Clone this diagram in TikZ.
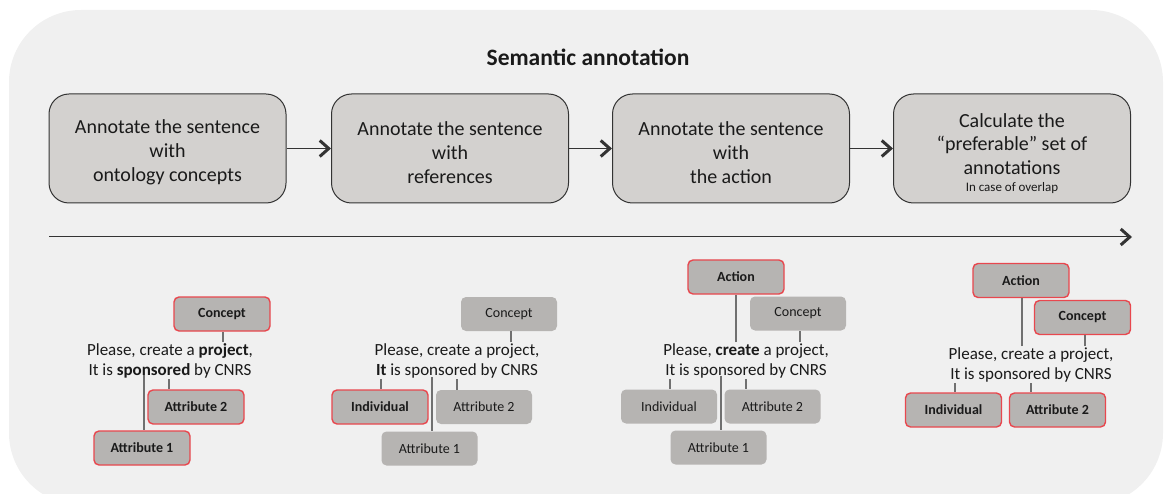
\documentclass[tikz,border=0pt]{standalone}
\usepackage{fontspec}
\setmainfont{Carlito}
\usetikzlibrary{arrows.meta}
\definecolor{bgc}{HTML}{F0F0F0}
\definecolor{bigfill}{HTML}{D3D1CF}
\definecolor{bigdraw}{HTML}{333333}
\definecolor{smallfill}{HTML}{B6B4B2}
\definecolor{redb}{HTML}{E8474E}
\definecolor{connc}{HTML}{707070}
\definecolor{txt}{HTML}{1A1A1A}
\tikzset{
  bigbox/.style={draw=bigdraw, line width=1pt, fill=bigfill, rounded corners=20pt,
    minimum width=237pt, minimum height=109pt, inner sep=0pt},
  boxtext/.style={inner sep=0pt, align=center, text=txt, font=\fontsize{20}{24}\selectfont},
  tag/.style={fill=smallfill, rounded corners=5pt, minimum width=96pt, minimum height=34pt,
    inner sep=0pt, text=txt, font=\fontsize{14}{16}\selectfont},
  redtag/.style={tag, draw=redb, line width=1.4pt, font=\fontsize{14}{16}\selectfont\bfseries},
  sentence/.style={anchor=north, inner sep=0pt, align=center, text=txt,
    font=\fontsize{17}{20}\selectfont},
  conn/.style={draw=connc, line width=1.5pt},
  flow/.style={draw=bigdraw, line width=1pt, -{Straight Barb[line width=3pt, length=9pt, width=16pt]}}
}
\begin{document}
\begin{tikzpicture}[x=1pt,y=-1pt]
\useasboundingbox (0,0) rectangle (1164,494);
\clip (0,0) rectangle (1164,494);
\fill[bgc, rounded corners=72pt] (9,10) rectangle (1163,505);

\node[font=\fontsize{23.5}{27}\selectfont\bfseries, text=txt] (title) at (588,57) {Semantic annotation};

\node[bigbox] (b1) at (167.5,148.5) {};
\node[bigbox] (b2) at (450,148.5) {};
\node[bigbox] (b3) at (731,148.5) {};
\node[bigbox] (b4) at (1012,148.5) {};
\node[boxtext] (b1t) at (167.5,152.5) {Annotate the sentence\\with\\ontology concepts};
\node[boxtext] (b2t) at (450,152.5) {Annotate the sentence\\with\\references};
\node[boxtext] (b3t) at (731,152.5) {Annotate the sentence\\with\\the action};
\node[boxtext, font=\fontsize{20}{23.5}\selectfont] (b4t) at (1012,153.5) {Calculate the\\“preferable” set of\\annotations\\[-6pt]{\fontsize{13}{15}\selectfont In case of overlap}};
\draw[flow] (b1) -- (b2);
\draw[flow] (b2) -- (b3);
\draw[flow] (b3) -- (b4);

\coordinate (t0) at (49,237);
\coordinate (t1) at (1132,237);
\draw[flow] (t0) -- (t1);

% group 1
\node[redtag] (g1con) at (222,314) {Concept};
\node[sentence] (g1s) at (170,343) {Please, create a \textbf{project},\\It is \textbf{sponsored} by CNRS};
\node[redtag] (g1a2) at (196,407) {Attribute 2};
\node[redtag] (g1a1) at (142,448) {Attribute 1};
\coordinate (g1p) at (223,342);
\coordinate (g1q) at (169,379);
\coordinate (g1r) at (144,375);
\draw[conn] (g1p) -- (g1p |- g1con.south);
\draw[conn] (g1q) -- (g1q |- g1a2.north);
\draw[conn] (g1r) -- (g1r |- g1a1.north);

% group 2
\node[tag] (g2con) at (509,314) {Concept};
\node[sentence] (g2s) at (457,343) {Please, create a project,\\\textbf{It} is sponsored by CNRS};
\node[redtag] (g2ind) at (380,407) {Individual};
\node[tag] (g2a2) at (484,407) {Attribute 2};
\node[tag] (g2a1) at (429.5,448.5) {Attribute 1};
\coordinate (g2p) at (511,342);
\coordinate (g2i) at (381,379);
\coordinate (g2q) at (457,379);
\coordinate (g2r) at (432,377);
\draw[conn] (g2p) -- (g2p |- g2con.south);
\draw[conn] (g2i) -- (g2i |- g2ind.north);
\draw[conn] (g2q) -- (g2q |- g2a2.north);
\draw[conn] (g2r) -- (g2r |- g2a1.north);

% group 3
\node[redtag] (g3act) at (736,277) {Action};
\node[tag] (g3con) at (798,313.5) {Concept};
\node[sentence] (g3s) at (746,343) {Please, \textbf{create} a project,\\It is sponsored by CNRS};
\node[tag] (g3ind) at (669,406.5) {Individual};
\node[tag] (g3a2) at (772.5,406.5) {Attribute 2};
\node[tag] (g3a1) at (718.5,447.5) {Attribute 1};
\coordinate (g3c) at (736,342);
\coordinate (g3p) at (800,342);
\coordinate (g3i) at (670,379);
\coordinate (g3q) at (746,379);
\coordinate (g3r) at (721,376);
\draw[conn] (g3c) -- (g3c |- g3act.south);
\draw[conn] (g3p) -- (g3p |- g3con.south);
\draw[conn] (g3i) -- (g3i |- g3ind.north);
\draw[conn] (g3q) -- (g3q |- g3a2.north);
\draw[conn] (g3r) -- (g3r |- g3a1.north);

% group 4
\node[redtag] (g4act) at (1021,280.5) {Action};
\node[redtag] (g4con) at (1082.5,317.5) {Concept};
\node[sentence] (g4s) at (1031,347) {Please, create a project,\\It is sponsored by CNRS};
\node[redtag] (g4ind) at (953.5,410) {Individual};
\node[redtag] (g4a2) at (1057.5,410) {Attribute 2};
\coordinate (g4c) at (1022,346);
\coordinate (g4p) at (1085,346);
\coordinate (g4i) at (955,383);
\coordinate (g4q) at (1031,383);
\draw[conn] (g4c) -- (g4c |- g4act.south);
\draw[conn] (g4p) -- (g4p |- g4con.south);
\draw[conn] (g4i) -- (g4i |- g4ind.north);
\draw[conn] (g4q) -- (g4q |- g4a2.north);
\end{tikzpicture}
\end{document}
